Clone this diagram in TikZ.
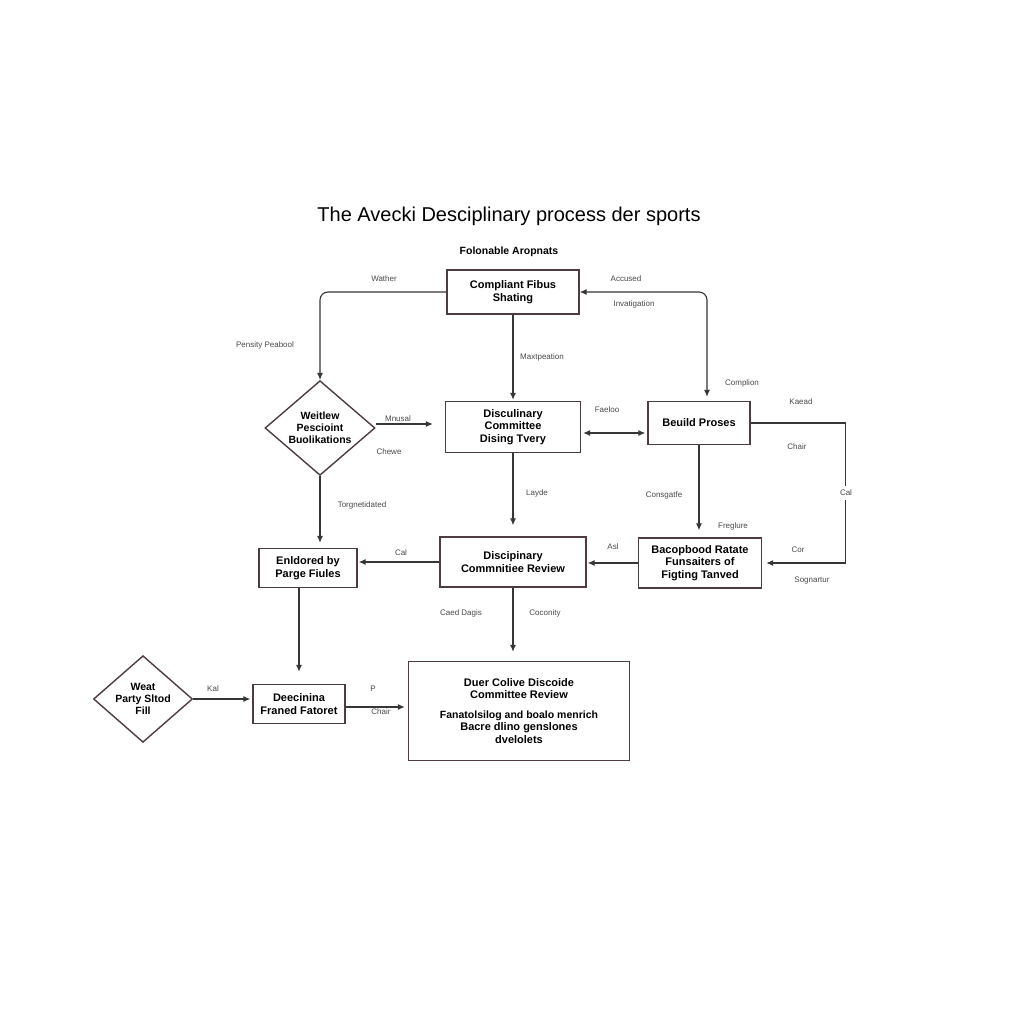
\documentclass[tikz,border=0pt]{standalone}
\usepackage{fontspec}
\setmainfont{Liberation Sans}
\usetikzlibrary{shapes.geometric,arrows.meta}
\definecolor{boxline}{HTML}{4E3B44}
\definecolor{conn}{HTML}{363636}
\definecolor{lbl}{HTML}{4A4A4A}
\begin{document}
\begin{tikzpicture}[x=1pt,y=-1pt,
	box/.style={draw=boxline,line width=1.4pt,align=center,inner sep=1pt,
		font=\fontsize{11}{12.5}\selectfont\bfseries},
	dia/.style={diamond,draw=boxline,line width=1.4pt,align=center,inner sep=0pt,
		font=\fontsize{10.5}{12}\selectfont\bfseries},
	lab/.style={font=\fontsize{8}{9}\selectfont,text=lbl,inner sep=1pt},
	arr/.style={draw=conn,line width=1.1pt,-{Latex[length=7pt,width=6pt]}},
	biarr/.style={draw=conn,line width=1.1pt,{Latex[length=7pt,width=6pt]}-{Latex[length=7pt,width=6pt]}}]
	\useasboundingbox[fill=white] (0,0) rectangle (1024,1024);
	% title
	\node (title) at (509,216) {\fontsize{20}{22}\selectfont The Avecki Desciplinary process der sports};
	\node (subtitle) at (509,252) {\fontsize{10.5}{12}\selectfont\bfseries Folonable Aropnats};
	% boxes and decisions
	\node[box,minimum width=132,minimum height=44] (compl) at (513,292) {Compliant Fibus\\Shating};
	\node[dia,minimum width=110,minimum height=79] (weit) at (320,428) {Weitlew\\Pescioint\\Buolikations};
	\node[box,minimum width=135,minimum height=51] (dising) at (513,427) {Disculinary\\Committee\\Dising Tvery};
	\node[box,minimum width=102,minimum height=43] (build) at (699,423) {Beuild Proses};
	\node[box,minimum width=123,minimum height=50] (bacop) at (700,563) {Bacopbood Ratate\\Funsaiters of\\Figting Tanved};
	\node[box,minimum width=146,minimum height=50] (review) at (513,562) {Discipinary\\Commnitiee Review};
	\node[box,minimum width=98,minimum height=39] (enld) at (308,568) {Enldored by\\Parge Fiules};
	\node[box,minimum width=92,minimum height=39] (deec) at (299,704) {Deecinina\\Franed Fatoret};
	\node[dia,minimum width=99,minimum height=82] (weat) at (143,699) {Weat\\Party Sltod\\Fill};
	\node[box,minimum width=221,minimum height=99] (duer) at (519,711) {Duer Colive Discoide\\Committee Review\\[7pt]
		\fontsize{10.5}{12.5}\selectfont Fanatolsilog and boalo menrich\\Bacre dlino genslones\\dvelolets};
	% connectors
	\draw[arr,rounded corners=8pt] (compl.west) -| (weit.north);
	\draw[biarr,rounded corners=8pt,shorten >=4pt] (compl.east) -| ([xshift=8]build.north);
	\draw[arr,shorten >=1pt] (compl.south) -- (dising.north);
	\draw[arr,shorten >=12pt] ([yshift=4]weit.east) -- ([yshift=4]weit.east -| dising.west);
	\draw[biarr,shorten >=2pt,shorten <=2pt] ([yshift=-6]dising.east) -- ([yshift=-6]dising.east -| build.west);
	\draw[arr,shorten >=4pt] (build.east) -- ++(95,0) |- (bacop.east);
	\draw[arr,shorten >=7pt] (build.south) -- (build.south |- bacop.north);
	\draw[arr,shorten >=1pt] (bacop.west) -- (bacop.west -| review.east);
	\draw[arr,shorten >=11pt] (dising.south) -- (dising.south |- review.north);
	\draw[arr,shorten >=1pt] (review.west) -- (review.west -| enld.east);
	\draw[arr,shorten >=5pt] (weit.south) -- (weit.south |- enld.north);
	\draw[arr,shorten >=12pt] (enld.south -| deec.north) -- (deec.north);
	\draw[arr,shorten >=2pt] (weat.east) -- (weat.east -| deec.west);
	\draw[arr,shorten >=3pt] ([yshift=-3]deec.east) -- ([yshift=-3]deec.east -| duer.west);
	\draw[arr,shorten >=9pt] (review.south) -- (review.south |- duer.north);
	% connector labels
	\node[lab] (l1) at (384,279) {Wather};
	\node[lab] (l2) at (626,279) {Accused};
	\node[lab] (l3) at (634,304) {Invatigation};
	\node[lab] (l4) at (265,345) {Pensity Peabool};
	\node[lab] (l5) at (542,357) {Maxtpeation};
	\node[lab] (l6) at (742,383) {Complion};
	\node[lab] (l7) at (398,419) {Mnusal};
	\node[lab] (l8) at (389,452) {Chewe};
	\node[lab] (l9) at (607,410) {Faeloo};
	\node[lab] (l10) at (801,402) {Kaead};
	\node[lab] (l11) at (797,447) {Chair};
	\node[lab,fill=white,inner ysep=4pt] (l12) at (846,493) {Cal};
	\node[lab] (l13) at (362,505) {Torgnetidated};
	\node[lab] (l14) at (537,493) {Layde};
	\node[lab] (l15) at (664,495) {Consgatfe};
	\node[lab] (l16) at (733,526) {Freglure};
	\node[lab] (l17) at (613,547) {Asl};
	\node[lab] (l18) at (401,553) {Cal};
	\node[lab] (l19) at (798,550) {Cor};
	\node[lab] (l20) at (812,581) {Sognartur};
	\node[lab] (l21) at (461,613) {Caed Dagis};
	\node[lab] (l22) at (545,613) {Coconity};
	\node[lab] (l23) at (213,689) {Kal};
	\node[lab] (l24) at (373,689) {P};
	\node[lab] (l25) at (381,712) {Chair};
\end{tikzpicture}
\end{document}
